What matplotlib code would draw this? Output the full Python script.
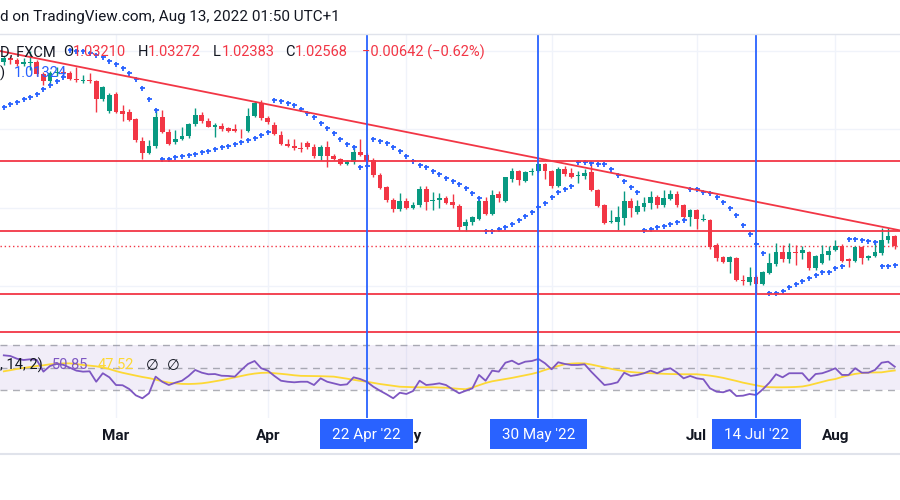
import matplotlib
matplotlib.use("Agg")
import matplotlib.pyplot as plt
from matplotlib.patches import Rectangle
from matplotlib.lines import Line2D
import numpy as np
import pandas as pd

plt.rcParams['font.family'] = ['Roboto', 'DejaVu Sans']

# ---------------- data ----------------
dates = pd.bdate_range("2022-02-04", "2022-08-12")

opens = [
    1.1425, 1.1450, 1.1440, 1.1415, 1.1420, 1.1430, 1.1350, 1.1305, 1.1355, 1.1365,
    1.1360, 1.1320, 1.1305, 1.1315, 1.1305, 1.1190, 1.1115, 1.1225, 1.1115, 1.1110,
    1.1064, 1.0925, 1.0850, 1.0890, 1.1075, 1.0983, 1.0915, 1.0935, 1.0955, 1.1030,
    1.1090, 1.1050, 1.1015, 1.1020, 1.1005, 1.0998, 1.0990, 1.0985, 1.1085, 1.1165,
    1.1070, 1.1025, 1.0965, 1.0905, 1.0895, 1.0880, 1.0910, 1.0885, 1.0825, 1.0885,
    1.0830, 1.0810, 1.0780, 1.0790, 1.0852, 1.0837, 1.0805, 1.0705, 1.0632, 1.0545,
    1.0490, 1.0540, 1.0500, 1.0515, 1.0615, 1.0540, 1.0550, 1.0560, 1.0535, 1.0510,
    1.0380, 1.0410, 1.0427, 1.0543, 1.0460, 1.0586, 1.0543, 1.0680, 1.0730, 1.0672,
    1.0725, 1.0730, 1.0777, 1.0730, 1.0640, 1.0745, 1.0718, 1.0700, 1.0700, 1.0725,
    1.0612, 1.0516, 1.0405, 1.0410, 1.0431, 1.0543, 1.0470, 1.0505, 1.0527, 1.0569,
    1.0516, 1.0555, 1.0586, 1.0516, 1.0438, 1.0484, 1.0420, 1.0420, 1.0261, 1.0183,
    1.0155, 1.0176, 1.0038, 1.0027, 1.0055, 1.0013, 1.0081, 1.0140, 1.0219, 1.0170,
    1.0219, 1.0208, 1.0219, 1.0113, 1.0148, 1.0197, 1.0229, 1.0255, 1.0170, 1.0161,
    1.0246, 1.0176, 1.0191, 1.0208, 1.0293, 1.03210]

highs = [
    1.1465, 1.1465, 1.1455, 1.1450, 1.1495, 1.1440, 1.1365, 1.1370, 1.1395, 1.1390,
    1.1370, 1.1395, 1.1345, 1.1360, 1.1315, 1.1275, 1.1230, 1.1235, 1.1150, 1.1125,
    1.1070, 1.0950, 1.0930, 1.1120, 1.1121, 1.1000, 1.0995, 1.1015, 1.1040, 1.1135,
    1.1110, 1.1070, 1.1040, 1.1040, 1.1010, 1.1030, 1.1000, 1.1132, 1.1180, 1.1185,
    1.1080, 1.1045, 1.0990, 1.0935, 1.0935, 1.0920, 1.0925, 1.0905, 1.0900, 1.0925,
    1.0840, 1.0815, 1.0800, 1.0890, 1.0935, 1.0850, 1.0815, 1.0720, 1.0640, 1.0560,
    1.0590, 1.0560, 1.0535, 1.0640, 1.0640, 1.0600, 1.0595, 1.0575, 1.0585, 1.0520,
    1.0425, 1.0445, 1.0555, 1.0565, 1.0611, 1.0605, 1.0697, 1.0750, 1.0740, 1.0730,
    1.0750, 1.0786, 1.0785, 1.0740, 1.0755, 1.0765, 1.0750, 1.0730, 1.0745, 1.0792,
    1.0620, 1.0525, 1.0484, 1.0510, 1.0605, 1.0560, 1.0545, 1.0570, 1.0605, 1.0580,
    1.0612, 1.0612, 1.0605, 1.0525, 1.0490, 1.0490, 1.0460, 1.0430, 1.0275, 1.0190,
    1.0190, 1.0185, 1.0070, 1.0123, 1.0070, 1.0095, 1.0208, 1.0272, 1.0261, 1.0272,
    1.0261, 1.0258, 1.0225, 1.0200, 1.0261, 1.0255, 1.0290, 1.0265, 1.0180, 1.0255,
    1.0255, 1.0200, 1.0293, 1.0368, 1.0367, 1.03272]

lows = [
    1.1410, 1.1415, 1.1400, 1.1400, 1.1375, 1.1340, 1.1280, 1.1290, 1.1335, 1.1330,
    1.1310, 1.1300, 1.1290, 1.1290, 1.1108, 1.1180, 1.1100, 1.1105, 1.1050, 1.1050,
    1.0920, 1.0808, 1.0840, 1.0880, 1.0975, 1.0900, 1.0905, 1.0930, 1.0945, 1.1020,
    1.1040, 1.1010, 1.0950, 1.0985, 1.0980, 1.0980, 1.0945, 1.0980, 1.1075, 1.1060,
    1.1035, 1.0965, 1.0900, 1.0885, 1.0865, 1.0855, 1.0870, 1.0815, 1.0800, 1.0760,
    1.0800, 1.0770, 1.0770, 1.0780, 1.0830, 1.0770, 1.0695, 1.0620, 1.0535, 1.0470,
    1.0480, 1.0490, 1.0490, 1.0505, 1.0485, 1.0485, 1.0500, 1.0520, 1.0500, 1.0354,
    1.0350, 1.0390, 1.0420, 1.0455, 1.0455, 1.0532, 1.0535, 1.0665, 1.0643, 1.0660,
    1.0705, 1.0725, 1.0680, 1.0625, 1.0630, 1.0700, 1.0690, 1.0656, 1.0680, 1.0605,
    1.0505, 1.0395, 1.0400, 1.0357, 1.0389, 1.0441, 1.0460, 1.0480, 1.0488, 1.0500,
    1.0505, 1.0545, 1.0505, 1.0430, 1.0382, 1.0361, 1.0415, 1.0235, 1.0160, 1.0145,
    1.0081, 1.0030, 1.0006, 1.0006, 0.9952, 1.0005, 1.0075, 1.0130, 1.0155, 1.0148,
    1.0134, 1.0170, 1.0105, 1.0100, 1.0140, 1.0165, 1.0220, 1.0155, 1.0123, 1.0150,
    1.0140, 1.0165, 1.0185, 1.0200, 1.0272, 1.02383]

closes = [
    1.1450, 1.1440, 1.1415, 1.1425, 1.1430, 1.1350, 1.1305, 1.1355, 1.1365, 1.1360,
    1.1320, 1.1310, 1.1315, 1.1305, 1.1190, 1.1270, 1.1217, 1.1110, 1.1095, 1.1060,
    1.0930, 1.0850, 1.0895, 1.1075, 1.0981, 1.0905, 1.0935, 1.0955, 1.1030, 1.1090,
    1.1050, 1.1015, 1.1025, 1.0998, 1.0990, 1.0985, 1.0985, 1.1085, 1.1165, 1.1070,
    1.1045, 1.0970, 1.0905, 1.0890, 1.0880, 1.0875, 1.0885, 1.0825, 1.0885, 1.0825,
    1.0810, 1.0780, 1.0790, 1.0852, 1.0837, 1.0795, 1.0705, 1.0627, 1.0545, 1.0490,
    1.0540, 1.0500, 1.0515, 1.0615, 1.0535, 1.0545, 1.0560, 1.0530, 1.0515, 1.0375,
    1.0410, 1.0437, 1.0543, 1.0459, 1.0580, 1.0559, 1.0692, 1.0735, 1.0675, 1.0725,
    1.0735, 1.0777, 1.0730, 1.0635, 1.0745, 1.0715, 1.0697, 1.0710, 1.0720, 1.0612,
    1.0512, 1.0403, 1.0414, 1.0441, 1.0543, 1.0495, 1.0510, 1.0527, 1.0569, 1.0516,
    1.0559, 1.0586, 1.0516, 1.0438, 1.0484, 1.0425, 1.0427, 1.0246, 1.0176, 1.0155,
    1.0183, 1.0038, 1.0032, 1.0055, 1.0013, 1.0091, 1.0145, 1.0219, 1.0170, 1.0219,
    1.0212, 1.0229, 1.0113, 1.0191, 1.0204, 1.0225, 1.0255, 1.0161, 1.0161, 1.0246,
    1.0176, 1.0191, 1.0219, 1.0293, 1.0318, 1.02568]

psar = [
    1.1142, 1.1159, 1.1174, 1.1189, 1.1204, 1.1221, 1.1253, 1.1280, 1.1306, 1.1331,
    1.1503, 1.1500, 1.1494, 1.1484, 1.1471, 1.1456, 1.1436, 1.1417, 1.1389, 1.1357,
    1.1319, 1.1261, 1.1191, 1.1121, 1.0809, 1.0811, 1.0819, 1.0826, 1.0833, 1.0841,
    1.0852, 1.0862, 1.0873, 1.0884, 1.0894, 1.0905, 1.0917, 1.0930, 1.0943, 1.0962,
    1.0981, 1.1185, 1.1180, 1.1168, 1.1153, 1.1126, 1.1100, 1.1075, 1.1040, 1.1008,
    1.0973, 1.0934, 1.0905, 1.0884, 1.0756, 1.0764, 1.0934, 1.0926, 1.0913, 1.0887,
    1.0860, 1.0828, 1.0798, 1.0771, 1.0756, 1.0734, 1.0713, 1.0686, 1.0671, 1.0650,
    1.0622, 1.0591, 1.0559, 1.0350, 1.0352, 1.0361, 1.0378, 1.0395, 1.0420, 1.0446,
    1.0473, 1.0501, 1.0531, 1.0565, 1.0601, 1.0616, 1.0637, 1.0792, 1.0788, 1.0782,
    1.0777, 1.0774, 1.0743, 1.0707, 1.0669, 1.0633, 1.0601, 1.0357, 1.0363, 1.0374,
    1.0382, 1.0393, 1.0406, 1.0420, 1.0616, 1.0615, 1.0601, 1.0591, 1.0569, 1.0537,
    1.0495, 1.0452, 1.0389, 1.0329, 1.0266, 1.0208, 0.9953, 0.9957, 0.9970, 0.9992,
    1.0013, 1.0032, 1.0053, 1.0070, 1.0087, 1.0091, 1.0113, 1.0127, 1.0297, 1.0297,
    1.0293, 1.0289, 1.0282, 1.0127, 1.0129, 1.01324]

rsi = [
    60.9, 60.3, 57.9, 56.8, 57.4, 56.8, 46.5, 51.5, 53.3, 52.6,
    50.0, 47.4, 46.5, 46.8, 37.6, 45.1, 41.5, 34.7, 34.5, 31.2,
    25.6, 23.0, 27.4, 42.1, 37.6, 34.7, 36.8, 38.5, 42.7, 48.0,
    45.6, 44.2, 44.4, 42.9, 42.7, 42.1, 48.0, 53.3, 55.9, 49.5,
    47.4, 42.7, 38.5, 37.6, 37.1, 37.6, 37.6, 34.7, 40.6, 37.6,
    36.2, 34.7, 35.3, 41.5, 40.0, 37.6, 33.2, 29.7, 26.5, 23.0,
    27.9, 26.8, 29.4, 38.5, 34.7, 35.3, 36.2, 34.7, 30.9, 27.4,
    29.7, 31.8, 43.6, 38.5, 47.4, 46.5, 54.4, 56.2, 53.0, 55.3,
    55.9, 57.7, 53.9, 48.6, 54.8, 53.3, 52.4, 52.4, 53.0, 46.5,
    40.6, 34.7, 35.6, 37.1, 45.6, 42.7, 43.6, 45.1, 47.4, 45.1,
    48.0, 49.5, 45.6, 40.6, 42.7, 40.6, 39.8, 31.8, 28.8, 28.3,
    30.3, 25.0, 25.3, 26.8, 25.9, 30.9, 36.8, 44.2, 41.5, 45.1,
    45.1, 45.1, 38.5, 44.4, 45.1, 47.1, 49.5, 43.6, 43.6, 49.5,
    45.6, 45.6, 48.0, 54.4, 55.3, 50.85]

rsi_ma = [
    46.8, 47.8, 48.9, 49.8, 50.6, 51.5, 52.1, 53.0, 53.4, 53.8,
    53.8, 53.2, 52.4, 51.8, 51.2, 50.2, 48.8, 47.0, 45.5, 44.2,
    43.0, 41.8, 40.8, 39.5, 38.0, 36.8, 36.2, 35.7, 35.6, 35.8,
    36.2, 37.0, 38.0, 39.0, 40.2, 41.4, 42.6, 43.9, 44.8, 45.4,
    45.6, 45.1, 44.6, 44.0, 43.3, 42.8, 42.7, 42.6, 42.5, 42.3,
    42.1, 41.2, 40.3, 39.3, 38.4, 37.6, 36.6, 35.6, 34.8, 34.0,
    33.2, 33.0, 32.8, 32.7, 32.7, 32.7, 32.5, 32.3, 31.8, 31.3,
    31.0, 32.5, 34.5, 36.5, 38.0, 39.0, 40.0, 41.0, 42.2, 43.3,
    44.5, 46.0, 48.0, 49.8, 51.5, 53.0, 53.6, 53.9, 53.8, 52.8,
    51.5, 50.3, 49.0, 47.9, 47.0, 46.2, 45.7, 45.4, 45.1, 44.9,
    44.6, 44.4, 44.3, 44.2, 44.2, 44.2, 43.7, 43.0, 42.1, 41.0,
    39.7, 38.3, 36.8, 35.6, 34.4, 33.3, 32.8, 32.7, 32.7, 32.8,
    33.0, 33.4, 34.5, 36.0, 37.5, 39.0, 40.0, 41.8, 43.3, 44.5,
    45.3, 45.7, 45.8, 45.9, 46.8, 47.52]

levels = [1.0796, 1.0350, 0.9949, 0.9710]
trend_dates = ["2022-02-04", "2022-08-12"]
trend_prices = [1.1492, 1.0361]
event_dates = ["2022-04-22", "2022-05-30", "2022-07-14"]
event_labels = ["22 Apr '22", "30 May '22", "14 Jul '22"]
month_names = ["Mar", "Apr", "May", "Jun", "Jul", "Aug"]
grid_prices = [1.00, 1.05, 1.10, 1.15]
rsi_bands = [70, 50, 30]

# ---------------- style ----------------
UP, DN = "#089981", "#F23645"
BLUE = "#2962FF"
RED = "#F23645"
GRID = "#F0F3FA"
TXT = "#131722"

W, H = 900, 500
fig = plt.figure(figsize=(9, 5), dpi=100)
fig.patch.set_facecolor("white")

def fx(px):
    return px / W

def fy(py):
    return 1 - py / H

ax = fig.add_axes([0, fy(338), 1, (338 - 35) / H])
rax = fig.add_axes([0, fy(418), 1, (418 - 338) / H])
XL = (-0.576, 135.79)
for a in (ax, rax):
    a.set_xlim(*XL)
    a.set_axis_off()
ax.set_ylim(0.96688, 1.15989)
rax.set_ylim(5.6, 76.2)

n = len(dates)
x = np.arange(n)
o = np.array(opens); h = np.array(highs); l = np.array(lows); c = np.array(closes)
idx_of = {d.strftime("%Y-%m-%d"): i for i, d in enumerate(dates)}

month_starts = [i for i in range(1, n) if dates[i].month != dates[i - 1].month]
for m in month_starts:
    ax.axvline(m, color=GRID, lw=1, zorder=0)
    rax.axvline(m, color=GRID, lw=1, zorder=0)
for p in grid_prices:
    ax.axhline(p, color=GRID, lw=1, zorder=0)

# candles
up = c >= o
col = np.where(up, UP, DN)
ax.vlines(x, l, h, colors=col, lw=1, zorder=3)
body = np.maximum(np.abs(c - o), 0.00025)
ax.bar(x, body, bottom=np.minimum(o, c), width=0.7, color=col, linewidth=0, zorder=4)

# parabolic SAR
ax.plot(x, psar, "+", ms=3.6, mew=1.3, color=BLUE, zorder=5, linestyle="none")

# drawings
ax.axhline(c[-1], color=RED, lw=1, ls=(0, (1, 2)), zorder=2)
for lv in levels:
    ax.axhline(lv, color=RED, lw=1.3, zorder=6)
t0, t1 = idx_of[trend_dates[0]], idx_of[trend_dates[1]]
ax.axline((t0, trend_prices[0]), (t1, trend_prices[1]), color=RED, lw=1.3, zorder=6)

ev_idx = [idx_of[d] for d in event_dates]
for e in ev_idx:
    ax.axvline(e, color=BLUE, lw=1.3, zorder=7)
    rax.axvline(e, color=BLUE, lw=1.3, zorder=7)

# RSI pane
rax.axhspan(30, 70, color="#7E57C2", alpha=0.1, lw=0, zorder=0)
for b in rsi_bands:
    rax.axhline(b, color="#787B86", lw=1, ls=(0, (5, 4)), alpha=0.6, zorder=1)
rax.plot(x, rsi_ma, color="#FDD835", lw=1.3, zorder=3)
rax.plot(x, rsi, color="#7E57C2", lw=1.3, zorder=4)

# frame lines
fig.add_artist(Line2D([0, 1], [fy(34), fy(34)], transform=fig.transFigure, color="#E0E3EB", lw=1))
fig.add_artist(Line2D([0, 1], [fy(454), fy(454)], transform=fig.transFigure, color="#E0E3EB", lw=1.5))

# header
fig.text(fx(0), fy(17), "d on TradingView.com, Aug 13, 2022 01:50 UTC+1", fontsize=11,
         color=TXT, ha="left", va="center")

# legend line 1
ly = fy(52)
fs = 10.5
fig.text(fx(0), ly, "D, FXCM", fontsize=fs, color=TXT, va="center", zorder=8)
for lab, val, xl, xv in [("O", "1.03210", 63, 73), ("H", "1.03272", 138, 148),
                         ("L", "1.02383", 213, 222), ("C", "1.02568", 285, 295)]:
    fig.text(fx(xl), ly, lab, fontsize=fs, color=TXT, va="center", zorder=8)
    fig.text(fx(xv), ly, val, fontsize=fs, color=RED, va="center", zorder=8)
fig.text(fx(362), ly, "\u22120.00642 (\u22120.62%)", fontsize=fs, color=RED, va="center", zorder=8)
# legend line 2
fig.text(fx(0), fy(73), ")", fontsize=fs, color=TXT, va="center", zorder=8)
fig.text(fx(14), fy(73), "1.01324", fontsize=fs, color=BLUE, va="center", zorder=8)
# RSI legend
ry = fy(365)
fig.text(fx(0), ry, ", 14, 2)", fontsize=fs, color=TXT, va="center", zorder=8)
fig.text(fx(52), ry, "50.85", fontsize=fs, color="#7E57C2", va="center", zorder=8)
fig.text(fx(98), ry, "47.52", fontsize=fs, color="#FDD835", va="center", zorder=8)
fig.text(fx(146), ry, "\u2205", fontsize=fs, color=TXT, va="center", zorder=8,
         family=["DejaVu Sans"])
fig.text(fx(167), ry, "\u2205", fontsize=fs, color=TXT, va="center", zorder=8,
         family=["DejaVu Sans"])

# time axis
def px_of(i):
    return fig.transFigure.inverted().transform(ax.transData.transform((i, 1.0)))[0]

ev_set = set(ev_idx)
for name, m in zip(month_names, month_starts):
    # months whose label sits fully under an event label box are not shown
    if name == "Jun":
        continue
    fig.text(px_of(m), fy(436), name, fontsize=11, fontweight="bold", color=TXT,
             ha="center", va="center", zorder=2)

fig.canvas.draw()
r = fig.canvas.get_renderer()
for e, lab in zip(ev_idx, event_labels):
    cx = px_of(e)
    t = fig.text(cx, fy(435), lab, fontsize=11, color="white", ha="center", va="center", zorder=11)
    bw = t.get_window_extent(r).width + 24
    fig.add_artist(Rectangle((cx - bw / 2 / W, fy(449)), bw / W, 30 / H,
                             transform=fig.transFigure, fc=BLUE, ec="none", zorder=10))

fig.savefig("out.png", dpi=100, facecolor="white")
